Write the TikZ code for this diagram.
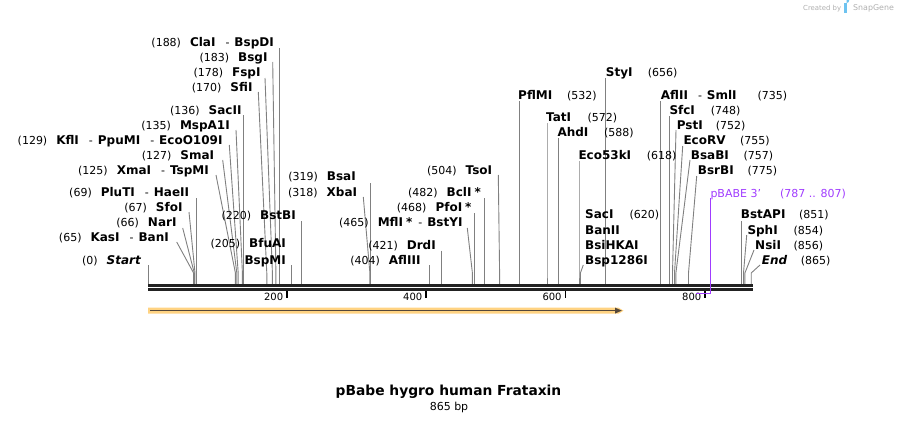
\documentclass[tikz,border=0pt]{standalone}
\usepackage{fontspec}
\setmainfont{DejaVu Sans}
\definecolor{cutg}{RGB}{128,128,128}
\definecolor{barc}{RGB}{34,34,34}
\definecolor{prim}{RGB}{160,60,255}
\definecolor{bandc}{RGB}{255,211,130}
\definecolor{featc}{RGB}{85,72,58}
\definecolor{logog}{RGB}{175,175,175}
\definecolor{logob}{RGB}{110,195,240}
\newcommand\nm[1]{{\fontsize{12}{14}\selectfont\bfseries #1}}
\newcommand\nmi[1]{{\fontsize{12}{14}\selectfont\bfseries\itshape #1}}
\newcommand\cutline[4]{%
  \coordinate (s#1) at (#2,#3);
  \coordinate (k#1) at (#4,273);
  \coordinate (b#1) at (#4,284.3);
  \draw[cut] (s#1) -- (k#1) -- (b#1);}
\begin{document}
\begin{tikzpicture}[x=1pt,y=-1pt,
  lab/.style={font=\fontsize{11}{13}\selectfont, inner sep=0pt},
  ticklab/.style={font=\fontsize{10}{12}\selectfont, inner sep=0pt, anchor=base east},
  cut/.style={draw=cutg, line width=0.9pt},
  barline/.style={draw=barc, line width=2.7pt},
  tickmark/.style={draw=black, line width=1.6pt}]
\useasboundingbox (0,0) rectangle (900,423);

% ---------- logo ----------
\node[inner sep=0pt, anchor=base west, text=logog, font=\fontsize{6.9}{8}\selectfont] (cre) at (803,10) {Created by};
\fill[logob] (844,3) rectangle (846.6,13);
\fill[logob] (846.6,3) arc[start angle=90, end angle=-90, radius=2.6] -- cycle;
\node[inner sep=0pt, anchor=base west, text=logog, font=\fontsize{7.9}{9}\selectfont] (sg) at (853,10.5) {SnapGene};

% ---------- cut lines ----------
\cutline{ClaI}{279.3}{48}{279.3}
\cutline{BsgI}{272.7}{62}{275.9}
\cutline{FspI}{265}{78}{272.4}
\cutline{SfiI}{258.3}{92}{266.8}
\cutline{SacII}{243.1}{115}{243.1}
\cutline{MspAI}{236}{130}{242.4}
\cutline{KflI}{229.3}{145}{238.2}
\cutline{SmaI}{222.7}{160}{236.8}
\cutline{XmaI}{216}{175}{235.4}
\cutline{PluTI}{196.4}{198}{196.4}
\cutline{SfoI}{189}{212}{195.0}
\cutline{NarI}{182.7}{228}{194.3}
\cutline{KasI}{176.7}{242}{193.6}
\cutline{Start}{148.3}{265}{148.3}
\cutline{BstBI}{301.6}{221}{301.6}
\cutline{BfuAI}{291.2}{265}{291.2}
\cutline{BsaI}{370.6}{183}{370.6}
\cutline{XbaI}{363.3}{197}{369.9}
\cutline{AflIII}{429.9}{265}{429.9}
\cutline{DrdI}{441.7}{250.7}{441.7}
\cutline{MflI}{467.3}{228}{472.4}
\cutline{PfoI}{474.5}{213}{474.5}
\cutline{BclI}{484.3}{198}{484.3}
\cutline{TsoI}{498.3}{175}{499.6}
\cutline{PflMI}{519.1}{101}{519.1}
\cutline{TatI}{547}{123}{547}
\cutline{AhdI}{558.1}{138}{558.1}
\cutline{Eco}{579}{161}{579}
\cutline{StyI}{605.5}{78}{605.5}
\cutline{SacI}{583.3}{265}{580.4}
\cutline{AflII}{660.6}{101}{660.6}
\cutline{SfcI}{669.7}{116}{669.7}
\cutline{PstI}{676}{130}{672.5}
\cutline{EcoRV}{682.7}{146}{674.5}
\cutline{BsaBI}{690}{160}{675.9}
\cutline{BsrBI}{696.7}{176}{688.5}
\cutline{BstAPI}{741.4}{221}{741.4}
\cutline{SphI}{746.7}{235}{743.5}
\cutline{NsiI}{754}{250}{744.9}
\cutline{End}{760}{265}{751.2}

% ---------- sequence bar ----------
\coordinate (barL1) at (148,285.7); \coordinate (barR1) at (752.7,285.7);
\coordinate (barL2) at (148,289.7); \coordinate (barR2) at (752.7,289.7);
\draw[barline] (barL1) -- (barR1);
\draw[barline] (barL2) -- (barR2);

% ---------- ticks ----------
\foreach \tx/\tl in {286.9/200, 426/400, 565.3/600, 705/800}{
  \draw[tickmark] (\tx,291) -- (\tx,298);
  \node[ticklab] (t\tl) at (\tx-3.5,300.7) {\tl};
}

% ---------- primer ----------
\coordinate (pr1) at (696,293.3);
\coordinate (pr2) at (710.5,293.3);
\coordinate (pr3) at (710.5,197.5);
\draw[draw=prim, line width=1.3pt] (pr1) -- (pr2);
\draw[draw=prim, line width=1.1pt] (pr2) -- (pr3);
\node[lab, anchor=base west, text=prim] (pbabe) at (710.3,197) {pBABE 3'};
\node[lab, anchor=base west, text=prim] (pbabeN) at (780,197) {(787 .. 807)};

% ---------- feature arrow ----------
\fill[bandc] (148,307.7) -- (618.5,307.7) -- (623.5,310.7) -- (618.5,313.7) -- (148,313.7) -- cycle;
\coordinate (fa1) at (150,310.6);
\coordinate (fa2) at (616,310.6);
\draw[draw=featc, line width=1.7pt] (fa1) -- (fa2);
\fill[featc] (615,307.6) -- (621.8,310.6) -- (615,313.6) -- cycle;

% ---------- left labels ----------
\node[lab, anchor=base east] (lClaI) at (274,46.5) {(188)\hspace{9pt}\nm{ClaI}\hspace{10pt}-\hspace{5pt}\nm{BspDI}};
\node[lab, anchor=base east] (lBsgI) at (267.7,61.5) {(183)\hspace{9pt}\nm{BsgI}};
\node[lab, anchor=base east] (lFspI) at (260.7,76.5) {(178)\hspace{9pt}\nm{FspI}};
\node[lab, anchor=base east] (lSfiI) at (252.7,91.5) {(170)\hspace{9pt}\nm{SfiI}};
\node[lab, anchor=base east] (lSacII) at (241.7,114.5) {(136)\hspace{9pt}\nm{SacII}};
\node[lab, anchor=base east] (lMspAI) at (230,129.5) {(135)\hspace{9pt}\nm{MspA1I}};
\node[lab, anchor=base east] (lKflI) at (222.7,144.5) {(129)\hspace{9pt}\nm{KflI}\hspace{10pt}-\hspace{5pt}\nm{PpuMI}\hspace{10pt}-\hspace{5pt}\nm{EcoO109I}};
\node[lab, anchor=base east] (lSmaI) at (214.3,159.5) {(127)\hspace{9pt}\nm{SmaI}};
\node[lab, anchor=base east] (lXmaI) at (209,174.5) {(125)\hspace{9pt}\nm{XmaI}\hspace{10pt}-\hspace{5pt}\nm{TspMI}};
\node[lab, anchor=base east] (lPluTI) at (189.3,196.5) {(69)\hspace{9pt}\nm{PluTI}\hspace{10pt}-\hspace{5pt}\nm{HaeII}};
\node[lab, anchor=base east] (lSfoI) at (182.7,211.5) {(67)\hspace{9pt}\nm{SfoI}};
\node[lab, anchor=base east] (lNarI) at (176.7,226.5) {(66)\hspace{9pt}\nm{NarI}};
\node[lab, anchor=base east] (lKasI) at (169,241.5) {(65)\hspace{9pt}\nm{KasI}\hspace{10pt}-\hspace{5pt}\nm{BanI}};
\node[lab, anchor=base east] (lStart) at (141,264.5) {(0)\hspace{9pt}\nmi{Start}};

% ---------- middle labels ----------
\node[lab, anchor=base east] (lBstBI) at (296,219.5) {(220)\hspace{9pt}\nm{BstBI}};
\node[lab, anchor=base east] (lBfuAI) at (286,247.5) {(205)\hspace{9pt}\nm{BfuAI}};
\node[lab, anchor=base east] (lBspMI) at (286,264.5) {\nm{BspMI}};
\node[lab, anchor=base east] (lBsaI) at (356,180.5) {(319)\hspace{9pt}\nm{BsaI}};
\node[lab, anchor=base east] (lXbaI) at (357.3,196.5) {(318)\hspace{9pt}\nm{XbaI}};
\node[lab, anchor=base east] (lAflIII) at (420.7,264.5) {(404)\hspace{9pt}\nm{AflIII}};
\node[lab, anchor=base east] (lDrdI) at (436,249.5) {(421)\hspace{9pt}\nm{DrdI}};
\node[lab, anchor=base east] (lMflI) at (462.7,226.5) {(465)\hspace{9pt}\nm{MflI\hspace{3pt}*}\hspace{6pt}-\hspace{5pt}\nm{BstYI}};
\node[lab, anchor=base east] (lPfoI) at (471.7,211.5) {(468)\hspace{9pt}\nm{PfoI\hspace{3pt}*}};
\node[lab, anchor=base east] (lBclI) at (481,196.5) {(482)\hspace{9pt}\nm{BclI\hspace{3pt}*}};
\node[lab, anchor=base east] (lTsoI) at (492.3,174.5) {(504)\hspace{9pt}\nm{TsoI}};

% ---------- right labels ----------
\foreach \id/\nx/\ux/\yy/\name/\num in {
  PflMI/518/567/99.5/PflMI/532,
  TatI/546/587.3/121/TatI/572,
  AhdI/557.3/604/136/AhdI/588,
  Eco/578.3/646.7/159.5/Eco53kI/618,
  StyI/605.7/647.7/76.5/StyI/656,
  SacI/585/629.3/218.5/SacI/620,
  SfcI/669.3/710.7/114.5/SfcI/748,
  PstI/676.7/715.7/129.5/PstI/752,
  EcoRV/683.3/740/144.5/EcoRV/755,
  BsaBI/690.7/743.3/159.5/BsaBI/757,
  BsrBI/697.7/747.3/174.5/BsrBI/775,
  BstAPI/740.7/799/218.5/BstAPI/851,
  SphI/747.3/793.3/234.5/SphI/854,
  NsiI/755/793.3/249.5/NsiI/856}{
  \node[lab, anchor=base west] (r\id) at (\nx,\yy) {\nm{\name}};
  \node[lab, anchor=base west] (n\id) at (\ux,\yy) {(\num)};
}
\node[lab, anchor=base west] (rAflII) at (660.7,99.5) {\nm{AflII}\hspace{10pt}-\hspace{5pt}\nm{SmlI}};
\node[lab, anchor=base west] (nAflII) at (757.3,99.5) {(735)};
\node[lab, anchor=base west] (rBanII) at (585,234.5) {\nm{BanII}};
\node[lab, anchor=base west] (rBsiHKAI) at (585,249.5) {\nm{BsiHKAI}};
\node[lab, anchor=base west] (rBsp) at (585,264.5) {\nm{Bsp1286I}};
\node[lab, anchor=base west] (rEnd) at (761.7,264.5) {\nmi{End}};
\node[lab, anchor=base west] (nEnd) at (800.7,264.5) {(865)};

% ---------- title ----------
\node[inner sep=0pt, anchor=base, font=\fontsize{13.8}{16}\selectfont\bfseries] (title) at (448.5,395.3) {pBabe hygro human Frataxin};
\node[inner sep=0pt, anchor=base, font=\fontsize{11}{13}\selectfont] (len) at (449,410.7) {865 bp};
\end{tikzpicture}
\end{document}
